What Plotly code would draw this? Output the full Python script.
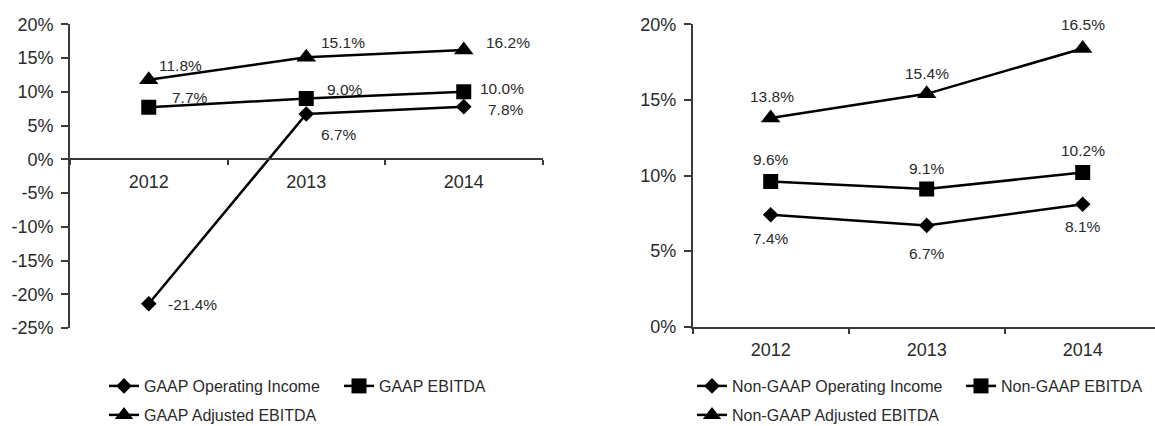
import plotly.graph_objects as go

# ---------------- data ----------------
years = ["2012", "2013", "2014"]

gaap_operating_income = [-21.4, 6.7, 7.8]
gaap_ebitda = [7.7, 9.0, 10.0]
gaap_adjusted_ebitda = [11.8, 15.1, 16.2]

nongaap_operating_income = [7.4, 6.7, 8.1]
nongaap_ebitda = [9.6, 9.1, 10.2]
nongaap_adjusted_ebitda = [13.8, 15.4, 18.4]          # heights as drawn in the picture
nongaap_adjusted_labels = ["13.8%", "15.4%", "16.5%"]  # labels as printed in the picture

left_tick_values = [20, 15, 10, 5, 0, -5, -10, -15, -20, -25]
left_tick_labels = ["20%", "15%", "10%", "5%", "0%", "-5%", "-10%", "-15%", "-20%", "-25%"]
right_tick_values = [20, 15, 10, 5, 0]
right_tick_labels = ["20%", "15%", "10%", "5%", "0%"]

# ---------------- style ----------------
W, H = 1155, 426
FONT = "Liberation Sans, Arial, Helvetica, sans-serif"
TEXT = "#2a2a2a"
AXIS = "#3a3a3a"
LINE_W = 2.5

left_yrange = [-25, 20]
right_yrange = [0, 20]
left_ydomain = [1 - 328 / H, 1 - 24.3 / H]
right_ydomain = [1 - 326.7 / H, 1 - 24.3 / H]
left_xdomain = [70 / W, 542.5 / W]
right_xdomain = [692.7 / W, 1.0]
right_band = 156.0
right_xrange = [-0.5, (W - 692.7) / right_band - 0.5]

# label offsets (px) relative to each point: (xshift, yshift)
off_gaap_adj = [(32, 14), (37, 15), (44, 7)]
off_gaap_ebitda = [(41, 10), (39, 9), (38, 3)]
off_gaap_op = [(44, -1), (33, -20), (42, -3)]
off_ng_adj = [(1, 22), (0, 20), (0, 24)]
off_ng_ebitda = [(0, 22), (0, 21), (0, 22)]
off_ng_op = [(0, -24), (0, -28), (0, -22)]

fig = go.Figure()


def add_series(name, values, symbol, size, xa, ya, legend):
    fig.add_trace(go.Scatter(
        x=years, y=values, name=name, mode="lines+markers",
        line=dict(color="black", width=LINE_W),
        marker=dict(symbol=symbol, size=size, color="black"),
        xaxis=xa, yaxis=ya, legend=legend, hoverinfo="skip",
    ))


add_series("GAAP Operating Income", gaap_operating_income, "diamond", 12, "x", "y", "legend")
add_series("GAAP EBITDA", gaap_ebitda, "square", 15, "x", "y", "legend")
add_series("GAAP Adjusted EBITDA", gaap_adjusted_ebitda, "triangle-up", 17, "x", "y", "legend2")
add_series("Non-GAAP Operating Income", nongaap_operating_income, "diamond", 12, "x2", "y2", "legend3")
add_series("Non-GAAP EBITDA", nongaap_ebitda, "square", 15, "x2", "y2", "legend3")
add_series("Non-GAAP Adjusted EBITDA", nongaap_adjusted_ebitda, "triangle-up", 17, "x2", "y2", "legend4")

annotations = []


def add_labels(values, texts, offsets, xref, yref):
    for i, (v, t, (dx, dy)) in enumerate(zip(values, texts, offsets)):
        annotations.append(dict(
            x=i, y=v, xref=xref, yref=yref, text=t, showarrow=False,
            xshift=dx, yshift=dy, font=dict(family=FONT, size=15.5, color=TEXT),
        ))


def pct(values):
    return [f"{v:.1f}%" for v in values]


add_labels(gaap_adjusted_ebitda, pct(gaap_adjusted_ebitda), off_gaap_adj, "x", "y")
add_labels(gaap_ebitda, pct(gaap_ebitda), off_gaap_ebitda, "x", "y")
add_labels(gaap_operating_income, pct(gaap_operating_income), off_gaap_op, "x", "y")
add_labels(nongaap_adjusted_ebitda, nongaap_adjusted_labels, off_ng_adj, "x2", "y2")
add_labels(nongaap_ebitda, pct(nongaap_ebitda), off_ng_ebitda, "x2", "y2")
add_labels(nongaap_operating_income, pct(nongaap_operating_income), off_ng_op, "x2", "y2")

# left x axis sits on the 0% line
zero_frac = (0 - left_yrange[0]) / (left_yrange[1] - left_yrange[0])
left_x_position = left_ydomain[0] + zero_frac * (left_ydomain[1] - left_ydomain[0])

tick_font = dict(family=FONT, size=18, color=TEXT)
common_x = dict(type="category", categoryorder="array", categoryarray=years,
                showline=True, linecolor=AXIS, linewidth=1.6,
                ticks="outside", tickson="boundaries", ticklen=5, tickcolor=AXIS, tickwidth=1.6,
                showgrid=False, zeroline=False, tickfont=tick_font, ticklabelstandoff=6,
                fixedrange=True, automargin=False)
common_y = dict(showline=True, linecolor=AXIS, linewidth=1.6,
                ticks="outside", ticklen=7, tickcolor=AXIS, tickwidth=1.6,
                showgrid=False, zeroline=False, tickfont=tick_font, ticklabelstandoff=4,
                fixedrange=True, automargin=False)

legend_common = dict(orientation="h", xanchor="left", yanchor="middle",
                     font=dict(family=FONT, size=16, color=TEXT),
                     bgcolor="rgba(0,0,0,0)", itemwidth=30, traceorder="normal",
                     itemclick=False, itemdoubleclick=False)

fig.update_layout(
    width=W, height=H,
    margin=dict(l=0, r=0, t=0, b=0, autoexpand=False),
    paper_bgcolor="white", plot_bgcolor="white",
    font=dict(family=FONT, color=TEXT),
    xaxis=dict(common_x, domain=left_xdomain, range=[-0.5, 2.5], anchor="free",
               position=left_x_position),
    yaxis=dict(common_y, domain=left_ydomain, range=left_yrange, anchor="x",
               tickvals=left_tick_values, ticktext=left_tick_labels),
    xaxis2=dict(common_x, domain=right_xdomain, range=right_xrange, anchor="y2"),
    yaxis2=dict(common_y, domain=right_ydomain, range=right_yrange, anchor="x2",
                tickvals=right_tick_values, ticktext=right_tick_labels),
    legend=dict(legend_common, x=104 / W, y=1 - 386 / H, entrywidth=190),
    legend2=dict(legend_common, x=104 / W, y=1 - 415 / H),
    legend3=dict(legend_common, x=692 / W, y=1 - 386 / H, entrywidth=224),
    legend4=dict(legend_common, x=692 / W, y=1 - 415 / H),
    annotations=annotations,
    showlegend=True,
    hovermode=False,
)

fig.write_html("out.html",
               config={"displayModeBar": False, "staticPlot": False},
               post_script="document.body.style.margin='0';document.body.style.overflow='hidden';")
